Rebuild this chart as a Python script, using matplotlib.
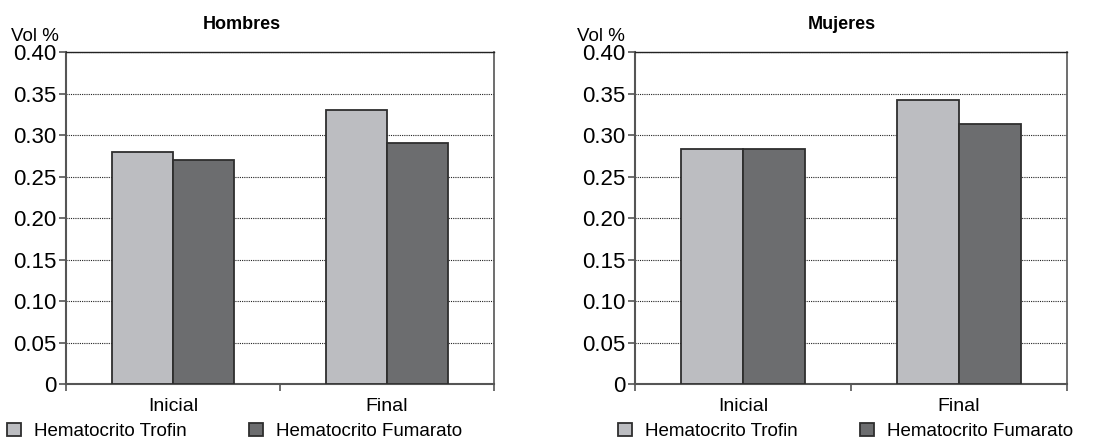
import numpy as np
import matplotlib
matplotlib.use('Agg')
import matplotlib.pyplot as plt

plt.rcParams['font.family'] = ['Liberation Sans Narrow', 'Liberation Sans', 'DejaVu Sans']

momentos = ['Inicial', 'Final']
series = ['Hematocrito Trofin', 'Hematocrito Fumarato']
hombres_trofin = [0.28, 0.33]
hombres_fumarato = [0.27, 0.29]
mujeres_trofin = [0.283, 0.342]
mujeres_fumarato = [0.283, 0.313]
yticks = [0, 0.05, 0.10, 0.15, 0.20, 0.25, 0.30, 0.35, 0.40]
ytick_labels = ['0', '0.05', '0.10', '0.15', '0.20', '0.25', '0.30', '0.35', '0.40']

c_trofin = '#bcbdc1'
c_fumarato = '#6c6d6f'
edge = '#2e2e2e'

fig = plt.figure(figsize=(11.11, 4.42), dpi=100)
ax1 = fig.add_axes([0.0594, 0.1312, 0.3852, 0.7511])
ax2 = fig.add_axes([0.5716, 0.1312, 0.3888, 0.7511])

w = 0.285
x = np.arange(len(momentos))


def panel(ax, trofin, fumarato, titulo, tx, vx, lx):
    b1 = ax.bar(x - w / 2, trofin, w, color=c_trofin, edgecolor=edge, linewidth=1.3, zorder=3)
    b2 = ax.bar(x + w / 2, fumarato, w, color=c_fumarato, edgecolor=edge, linewidth=1.3, zorder=3)
    ax.set_xlim(-0.5, 1.5)
    ax.set_ylim(0, 0.40)
    ax.set_yticks(yticks)
    ax.set_yticklabels(ytick_labels)
    ax.tick_params(axis='y', labelsize=16, length=5, width=1.2, color='#555555', pad=2)
    ax.set_xticks([-0.5, 0.5, 1.5])
    ax.set_xticklabels([])
    ax.tick_params(axis='x', which='major', length=5, width=1.2, color='#555555')
    ax.set_xticks(x, minor=True)
    ax.set_xticklabels(momentos, minor=True, fontsize=14)
    ax.tick_params(axis='x', which='minor', length=0, pad=10)
    ax.grid(axis='y', linestyle=(0, (1, 1)), color='#222222', linewidth=0.8, zorder=0)
    for s in ['left', 'bottom']:
        ax.spines[s].set_color('#555555')
        ax.spines[s].set_linewidth(1.5)
    ax.spines['top'].set_color('#222222')
    ax.spines['top'].set_linewidth(1.0)
    ax.spines['right'].set_color('#555555')
    ax.spines['right'].set_linewidth(1.2)
    fig.text(tx, 0.945, titulo, ha='center', va='center', fontsize=13, fontweight='bold')
    fig.text(vx, 0.918, 'Vol %', ha='left', va='center', fontsize=13.5)
    ax.legend([b1, b2], series, loc='lower left', bbox_to_anchor=(lx, -0.002),
              bbox_transform=fig.transFigure, ncol=2, frameon=False, fontsize=13.5,
              handlelength=0.75, handleheight=0.75, handletextpad=0.7,
              columnspacing=3.3, borderaxespad=0.05, borderpad=0.1)


panel(ax1, hombres_trofin, hombres_fumarato, 'Hombres', 0.218, 0.010, 0.004)
panel(ax2, mujeres_trofin, mujeres_fumarato, 'Mujeres', 0.758, 0.519, 0.554)

fig.savefig('out.png', dpi=100)
